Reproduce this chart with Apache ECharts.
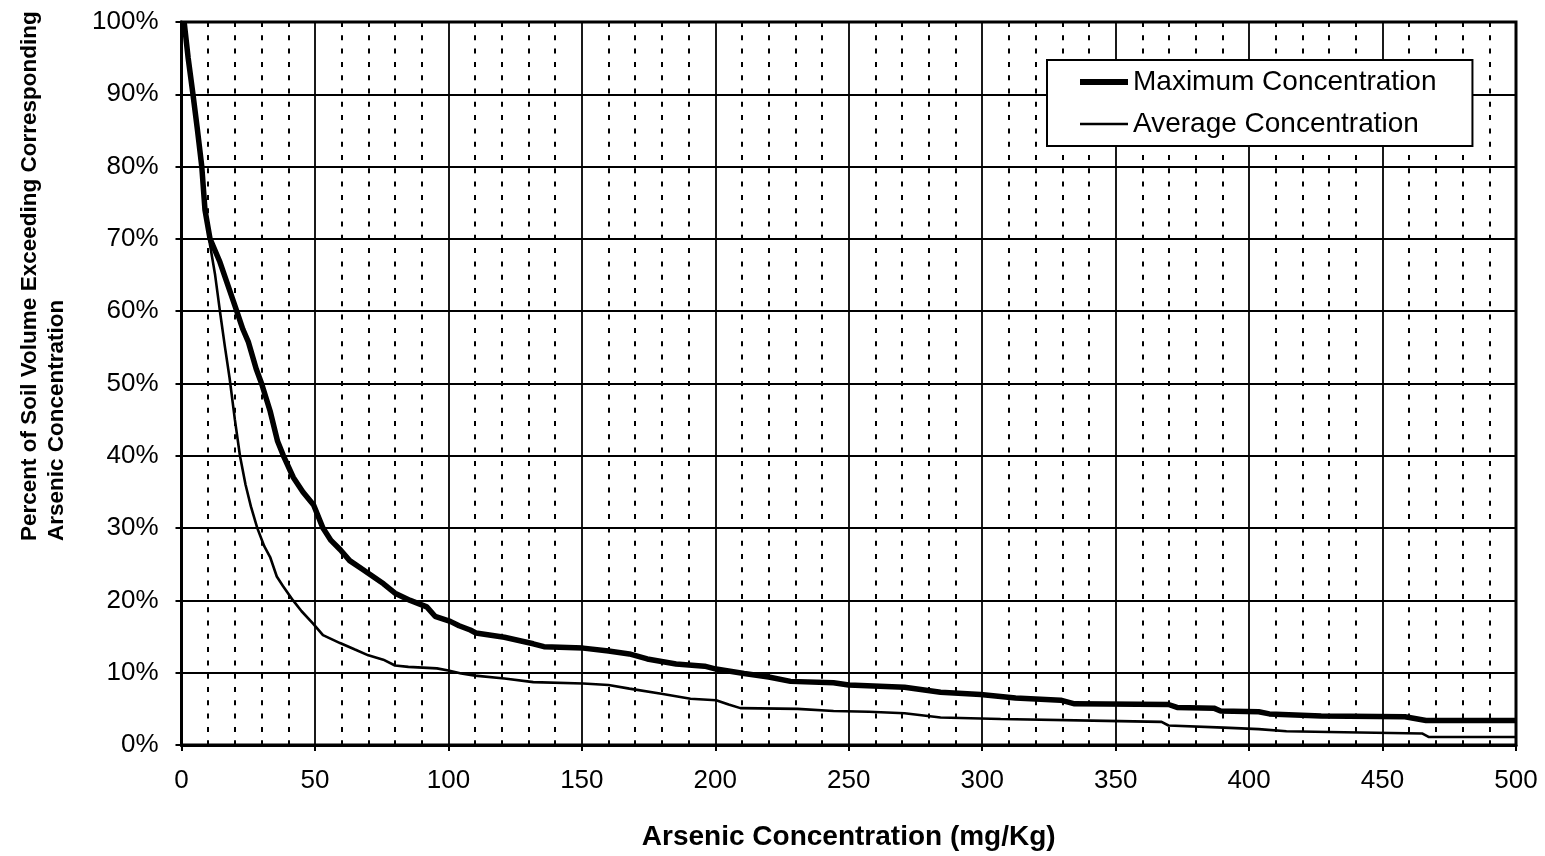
<!DOCTYPE html>
<html>
<head>
<meta charset="utf-8">
<script src="https://cdn.jsdelivr.net/npm/echarts@6/dist/echarts.min.js"></script>
<style>
html,body{margin:0;padding:0;background:#fff;}
#chart{width:1545px;height:856px;}
</style>
</head>
<body>
<div id="chart"></div>
<script>
// Maximum Concentration curve (x: mg/Kg, y: %)
const maxX = [1,2.5,4.3,6,7.6,8.8,10.7,14.4,18.2,20.7,23,25,28,30,33.2,36,38.2,41.9,45.5,49.5,53,56,59.5,63,68.2,75.7,80,85.7,91.9,95,100.7,104,108.2,110.3,121,131.8,135.8,150.5,160,167.8,174.5,185.3,196,200.3,210.8,220,228.2,244.3,250,270.9,284.4,299.4,312.5,329.4,334.6,369.8,373,386.8,389.3,403.6,407.6,427,458.4,466.3,500];
const maxY = [100,95,90,85,80,74,70,66.8,62.7,60,57.5,55.8,52,50,46.2,42,40,37,35,33.2,30,28.3,27,25.5,24.2,22.3,21,20,19.1,17.8,17.1,16.5,15.9,15.5,14.9,14.0,13.6,13.4,13.0,12.6,11.9,11.2,10.9,10.5,9.9,9.4,8.8,8.6,8.3,8.0,7.3,7.0,6.5,6.2,5.7,5.6,5.2,5.1,4.7,4.6,4.3,4.0,3.9,3.4,3.4];
// Average Concentration curve
const avgX = [1,2.5,4,5.8,7.3,8.7,10.3,12.6,14.4,16.3,18,20,21.9,24,26,28.4,31,33.2,35.7,38,41.8,45,49.3,53,59.4,65,70,75.6,80,85,95.7,100,104.8,110,121,131.8,150.5,160,167.8,179.8,190.7,200.3,205,209.4,230.8,244.3,257.6,270.9,284.4,306.9,351.5,367.2,369.8,390.5,403.6,414,429.8,464.8,467.4,500];
const avgY = [100,95,90,85,80,75,70,65,60,55,50.8,45,40,36,33,30,27.5,26,23.3,22,20,18.5,16.8,15.2,14.1,13.2,12.4,11.8,11,10.8,10.6,10.3,9.9,9.6,9.2,8.7,8.5,8.3,7.8,7.1,6.4,6.2,5.6,5.1,5.0,4.7,4.6,4.4,3.8,3.6,3.3,3.2,2.7,2.4,2.2,1.9,1.8,1.6,1.1,1.1];

const seriesNames = ['Maximum Concentration', 'Average Concentration'];
const xTitle = 'Arsenic Concentration (mg/Kg)';
const yTitle = 'Percent of Soil Volume Exceeding Corresponding\nArsenic Concentration';

const FONT = '"Liberation Sans", Arial, sans-serif';
const chart = echarts.init(document.getElementById('chart'));
const pairs = (xs, ys) => xs.map((x, i) => [x, ys[i]]);

chart.setOption({
  backgroundColor: '#fff',
  animation: false,
  grid: { left: 181.5, right: 29, top: 22, bottom: 107, show: true, borderColor: '#000', borderWidth: 3, backgroundColor: 'transparent' },
  xAxis: {
    type: 'value', min: 0, max: 500, interval: 50,
    name: xTitle, nameLocation: 'middle', nameGap: 78,
    nameTextStyle: { fontFamily: FONT, fontSize: 28, fontWeight: 'bold', color: '#000' },
    axisLine: { show: true, lineStyle: { color: '#000', width: 3 } },
    axisTick: { show: true, length: 6, lineStyle: { color: '#000', width: 2 } },
    axisLabel: { fontFamily: FONT, fontSize: 26, color: '#000', margin: 23 },
    splitLine: { show: true, lineStyle: { color: '#000', width: 1.8 } },
    minorTick: { show: false, splitNumber: 5 },
    minorSplitLine: { show: true, lineStyle: { color: '#000', width: 2, type: [5, 8.3] } }
  },
  yAxis: {
    type: 'value', min: 0, max: 100, interval: 10,
    axisLine: { show: true, lineStyle: { color: '#000', width: 3 } },
    axisTick: { show: true, length: 6, lineStyle: { color: '#000', width: 2 } },
    axisLabel: { fontFamily: FONT, fontSize: 26, color: '#000', margin: 23, formatter: '{value}%' },
    splitLine: { show: true, lineStyle: { color: '#000', width: 1.8 } }
  },
  legend: {
    orient: 'vertical', left: 1047, top: 60,
    data: [
      { name: seriesNames[0], icon: 'path://M0,0H48V6H0Z' },
      { name: seriesNames[1], icon: 'path://M0,0H48V2.6H0Z' }
    ],
    symbolKeepAspect: true,
    backgroundColor: '#fff', borderColor: '#000', borderWidth: 2,
    padding: [8, 36, 8, 33], itemGap: 14, itemWidth: 48, itemHeight: 28,
    textStyle: { fontFamily: FONT, fontSize: 28, color: '#000' }
  },
  graphic: [{
    type: 'text', x: 16, y: 541, rotation: Math.PI / 2,
    style: { text: yTitle, font: 'bold 22.5px ' + FONT, fill: '#000', textAlign: 'left', textVerticalAlign: 'top', lineHeight: 27 }
  }],
  series: [
    { name: seriesNames[0], type: 'line', data: pairs(maxX, maxY), showSymbol: false, symbol: 'none', z: 3,
      lineStyle: { color: '#000', width: 5.5 }, itemStyle: { color: '#000' } },
    { name: seriesNames[1], type: 'line', data: pairs(avgX, avgY), showSymbol: false, symbol: 'none', z: 2,
      lineStyle: { color: '#000', width: 2.6 }, itemStyle: { color: '#000' } }
  ]
});
</script>
</body>
</html>
